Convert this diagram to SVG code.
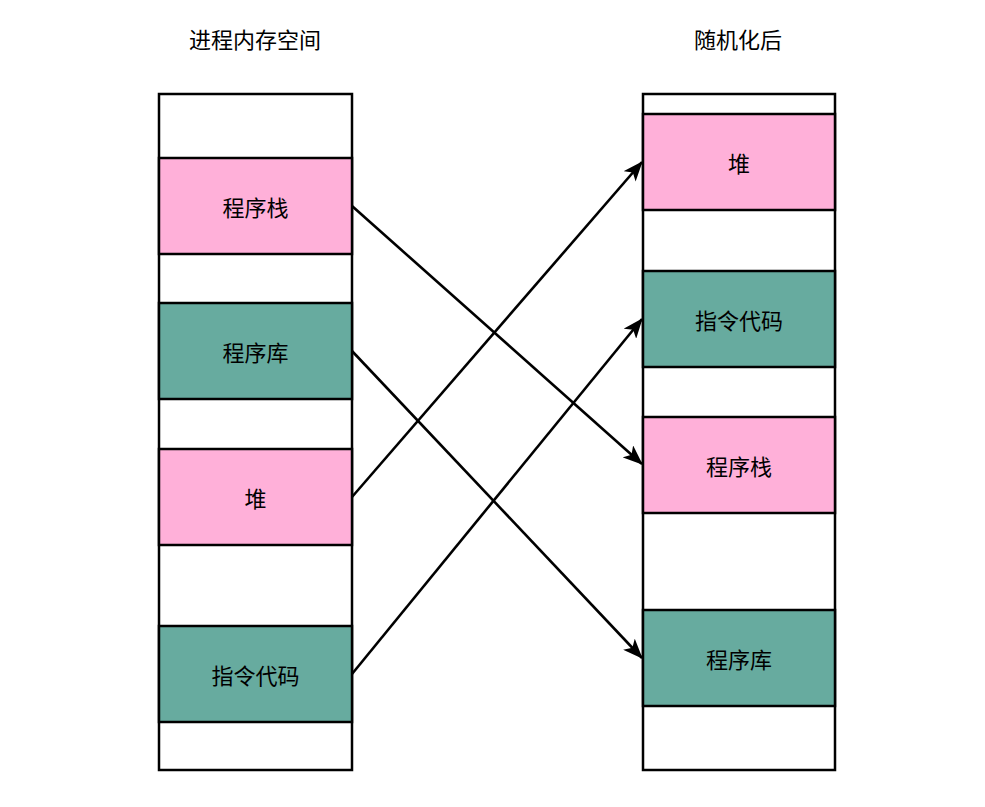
<svg xmlns="http://www.w3.org/2000/svg" width="985" height="807" viewBox="0 0 985 807">
<style>
.col{fill:#fff;stroke:#000;stroke-width:2.5}
.pink{fill:#FFB0D9;stroke:#000;stroke-width:2.5}
.teal{fill:#67AB9F;stroke:#000;stroke-width:2.5}
text{font-family:"Noto Sans CJK SC","Noto Sans",sans-serif;font-size:22px;fill:#000;text-anchor:middle;dominant-baseline:central}
.edge{fill:none;stroke:#000;stroke-width:2.6}
</style>
<defs>
<marker id="arr" viewBox="0 0 10 10" refX="9.5" refY="5" markerWidth="20" markerHeight="16" preserveAspectRatio="none" markerUnits="userSpaceOnUse" orient="auto">
<path d="M0,0 L10,5 L0,10 L2.5,5 Z" fill="#000"/>
</marker>
</defs>
<rect width="985" height="807" fill="#fff"/>
<g id="title-left"><text x="255" y="38">进程内存空间</text></g>
<g id="title-right"><text x="738" y="38">随机化后</text></g>
<g id="left-column"><rect class="col" x="159" y="94" width="193" height="676"/></g>
<g id="left-stack"><rect class="pink" x="159" y="158" width="193" height="96"/><text x="255.5" y="206">程序栈</text></g>
<g id="left-lib"><rect class="teal" x="159" y="303" width="193" height="96"/><text x="255.5" y="351">程序库</text></g>
<g id="left-heap"><rect class="pink" x="159" y="449" width="193" height="96"/><text x="255.5" y="497">堆</text></g>
<g id="left-code"><rect class="teal" x="159" y="626" width="193" height="96"/><text x="255.5" y="674">指令代码</text></g>
<g id="right-column"><rect class="col" x="643" y="94" width="192" height="676"/></g>
<g id="right-heap"><rect class="pink" x="643" y="114" width="192" height="96"/><text x="739" y="162">堆</text></g>
<g id="right-code"><rect class="teal" x="643" y="271" width="192" height="96"/><text x="739" y="319">指令代码</text></g>
<g id="right-stack"><rect class="pink" x="643" y="417" width="192" height="96"/><text x="739" y="465">程序栈</text></g>
<g id="right-lib"><rect class="teal" x="643" y="610" width="192" height="96"/><text x="739" y="658">程序库</text></g>
<g id="connectors">
<line class="edge" x1="352" y1="206" x2="642" y2="464" marker-end="url(#arr)"/>
<line class="edge" x1="352" y1="351" x2="642" y2="658" marker-end="url(#arr)"/>
<line class="edge" x1="352" y1="497" x2="642" y2="162" marker-end="url(#arr)"/>
<line class="edge" x1="352" y1="674" x2="642" y2="319" marker-end="url(#arr)"/>
</g>
</svg>
